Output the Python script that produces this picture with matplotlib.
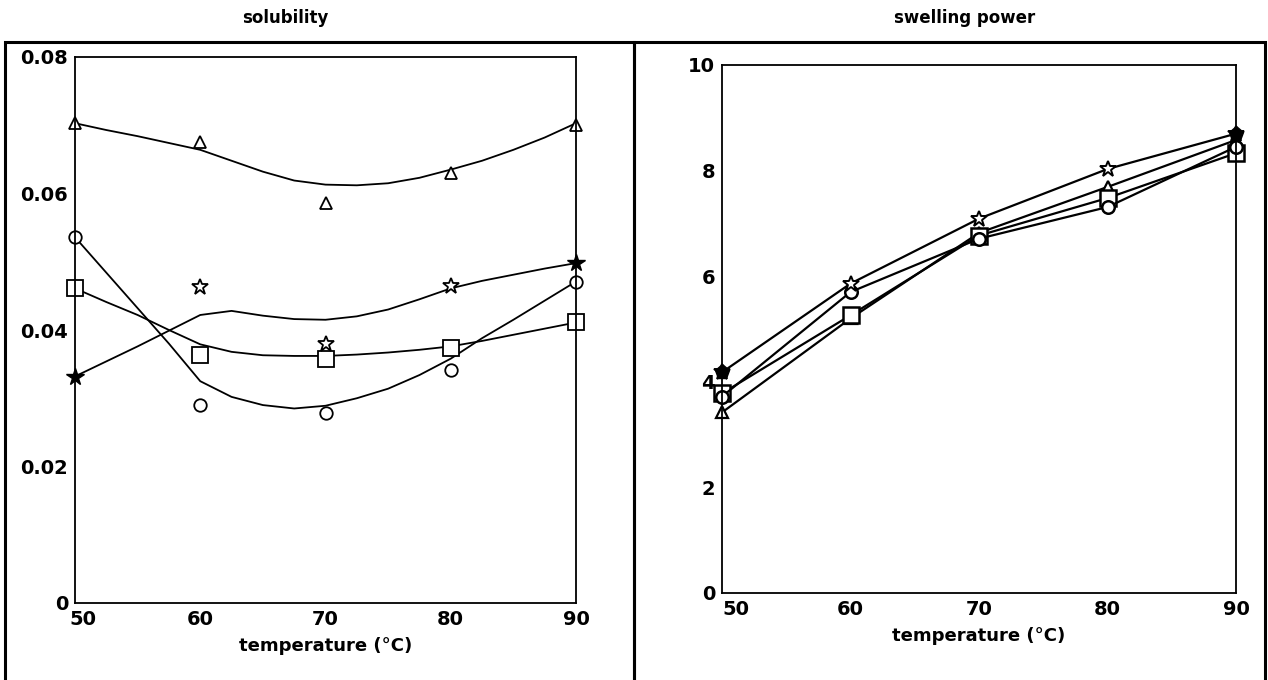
import matplotlib.pyplot as plt
from matplotlib.patches import Rectangle
from matplotlib.transforms import ScaledTranslation

# temperatures of the measurements
temp = [50, 60, 70, 80, 90]

# solubility, measured points
sol_tri = [0.0703, 0.0676, 0.0586, 0.0630, 0.0700]
sol_circ = [0.0536, 0.0290, 0.0279, 0.0341, 0.0471]
sol_sq = [0.0461, 0.0364, 0.0357, 0.0373, 0.0411]
sol_star = [0.0331, 0.0463, 0.0380, 0.0464, 0.0498]

# solubility, fitted curves
fit_temp = [50, 52.5, 55, 57.5, 60, 62.5, 65, 67.5, 70, 72.5, 75, 77.5, 80, 82.5, 85, 87.5, 90]
fit_tri = [0.0703, 0.0693, 0.0684, 0.0674, 0.0664, 0.0648, 0.0632, 0.0619, 0.0613, 0.0612,
           0.0615, 0.0623, 0.0635, 0.0648, 0.0664, 0.0682, 0.0703]
fit_circ = [0.0536, 0.0484, 0.0432, 0.0380, 0.0325, 0.0302, 0.0290, 0.0285, 0.0289, 0.0300,
            0.0314, 0.0334, 0.0358, 0.0388, 0.0415, 0.0443, 0.0471]
fit_sq = [0.0461, 0.0441, 0.0422, 0.0400, 0.0379, 0.0368, 0.0363, 0.0362, 0.0362, 0.0364,
          0.0367, 0.0371, 0.0376, 0.0384, 0.0393, 0.0402, 0.0411]
fit_star = [0.0332, 0.0354, 0.0376, 0.0399, 0.0422, 0.0428, 0.0421, 0.0416, 0.0415, 0.0420,
            0.0430, 0.0445, 0.0461, 0.0472, 0.0481, 0.0490, 0.0498]

# swelling power
sw_star = [4.18, 5.86, 7.09, 8.03, 8.70]
sw_circ = [3.72, 5.70, 6.71, 7.31, 8.45]
sw_sq = [3.78, 5.26, 6.77, 7.48, 8.33]
sw_tri = [3.42, 5.20, 6.82, 7.69, 8.58]

plt.rcParams['font.family'] = 'DejaVu Sans'
plt.rcParams['font.weight'] = 'bold'

fig = plt.figure(figsize=(12.68, 6.8), dpi=100)
W, H = 1268, 680

# outer panel frames
fig.add_artist(Rectangle((5 / W, -0.05), 629 / W, 1 - 42 / H + 0.05, transform=fig.transFigure,
                         fill=False, lw=2.2, ec='black'))
fig.add_artist(Rectangle((634 / W, -0.05), 631 / W, 1 - 42 / H + 0.05, transform=fig.transFigure,
                         fill=False, lw=2.2, ec='black'))

ax1 = fig.add_axes([75 / W, 1 - 603 / H, 501 / W, 546 / H])
ax2 = fig.add_axes([722 / W, 1 - 593 / H, 514 / W, 528 / H])

mk = dict(mfc='white', mec='black', mew=1.3, ls='none', clip_on=False)

# solubility
for y in [fit_tri, fit_circ, fit_sq, fit_star]:
    ax1.plot(fit_temp, y, color='black', lw=1.3, clip_on=False)
ax1.plot(temp, sol_tri, marker='^', ms=9, **mk)
ax1.plot(temp, sol_circ, marker='o', ms=9, **mk)
ax1.plot(temp, sol_sq, marker='s', ms=12, **mk)
ax1.plot(temp[1:4], sol_star[1:4], marker='*', ms=12, **mk)
ax1.plot([temp[0], temp[4]], [sol_star[0], sol_star[4]], marker='*', ms=13, color='black',
         ls='none', clip_on=False)
ax1.set_ylim(0, 0.08)
ax1.set_yticks([0, 0.02, 0.04, 0.06, 0.08])
ax1.set_yticklabels(['0', '0.02', '0.04', '0.06', '0.08'])

# swelling power
lk = dict(color='black', lw=1.6, mfc='white', mec='black', clip_on=False)
ax2.plot(temp, sw_tri, marker='^', ms=9, mew=1.6, **lk)
ax2.plot(temp, sw_sq, marker='s', ms=11, mew=1.8, **lk)
ax2.plot(temp, sw_circ, marker='o', ms=9, mew=1.8, **lk)
ax2.plot(temp, sw_star, marker='*', ms=12, mew=1.4, **lk)
ax2.plot([temp[0], temp[4]], [sw_star[0], sw_star[4]], marker='p', ms=11, color='black',
         ls='none', clip_on=False)
ax2.set_ylim(0, 10)
ax2.set_yticks([0, 2, 4, 6, 8, 10])

for ax in (ax1, ax2):
    ax.set_xlim(50, 90)
    ax.set_xticks([50, 60, 70, 80, 90])
    ax.tick_params(length=0, labelsize=14, pad=5)
    for s in ax.spines.values():
        s.set_linewidth(1.3)
    ax.set_xlabel('temperature (°C)', fontsize=13, fontweight='bold', labelpad=6)
    for lab in ax.get_xticklabels() + ax.get_yticklabels():
        lab.set_fontweight('bold')

# first x label sits a little to the right of the corner
for ax, dx in ((ax1, 8), (ax2, 14)):
    lab = ax.get_xticklabels()[0]
    lab.set_transform(lab.get_transform() + ScaledTranslation(dx / 100, 0, fig.dpi_scale_trans))

fig.text(285 / W, 1 - 18 / H, 'solubility', ha='center', va='center', fontsize=12, fontweight='bold')
fig.text(965 / W, 1 - 18 / H, 'swelling power', ha='center', va='center', fontsize=12, fontweight='bold')

plt.savefig('out.png', dpi=100)
